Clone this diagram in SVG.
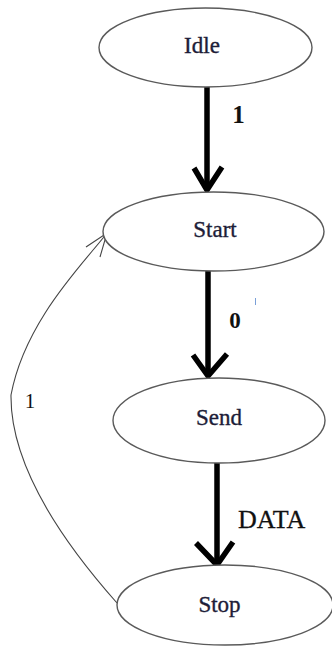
<svg xmlns="http://www.w3.org/2000/svg" width="332" height="647" viewBox="0 0 332 647">
  <style>
    .state { fill: #fff; stroke: #5a5a5a; stroke-width: 1.4; }
    .name { font-family: "Liberation Serif", "Times New Roman", serif; font-size: 23px; fill: #1d1d38; stroke: #1d1d38; stroke-width: 0.35; text-anchor: middle; }
    .thick { stroke: #000; stroke-width: 5.5; fill: none; stroke-linejoin: round; }
    .thin { stroke: #444; stroke-width: 1.1; fill: none; }
    .lbl { font-family: "Liberation Serif", "Times New Roman", serif; fill: #111; }
    .bold { font-weight: bold; }
  </style>
  <rect width="332" height="647" fill="#fff"/>

  <g id="connectors">
    <!-- Idle -> Start -->
    <line class="thick" x1="207" y1="87" x2="207" y2="190"/>
    <polyline class="thick" points="194,168 207,190 222,167"/>
    <text class="lbl bold" x="238.5" y="123" font-size="25" text-anchor="middle">1</text>
    <!-- Start -> Send -->
    <line class="thick" x1="208" y1="271" x2="208" y2="376"/>
    <polyline class="thick" points="193,355 208,376 227,354"/>
    <text class="lbl bold" x="235" y="328" font-size="23" text-anchor="middle">0</text>
    <line x1="255.5" y1="298" x2="255.5" y2="305" stroke="#7aa0d8" stroke-width="1"/>
    <!-- Send -> Stop -->
    <line class="thick" x1="217" y1="463" x2="217" y2="565"/>
    <polyline class="thick" points="196,543 217,565 233,542"/>
    <text class="lbl" x="238" y="528" font-size="26" stroke="#111" stroke-width="0.3">DATA</text>
    <!-- Stop -> Start (loop back) -->
    <path class="thin" d="M117,603 C70,550 10,470 11,395 C25,320 85,262 107,233"/>
    <polyline class="thin" points="86,247 107,233 100,257"/>
    <text class="lbl" x="30" y="408" font-size="21" text-anchor="middle">1</text>
  </g>

  <g id="idle">
    <ellipse class="state" cx="205.5" cy="47.5" rx="106.5" ry="39.5"/>
    <text class="name" x="202" y="53">Idle</text>
  </g>
  <g id="start">
    <ellipse class="state" cx="213.5" cy="231.5" rx="110.5" ry="39.5"/>
    <text class="name" x="215" y="237">Start</text>
  </g>
  <g id="send">
    <ellipse class="state" cx="219" cy="420.5" rx="106" ry="42.5"/>
    <text class="name" x="219" y="425">Send</text>
  </g>
  <g id="stop">
    <ellipse class="state" cx="225" cy="605" rx="108" ry="40"/>
    <text class="name" x="219.5" y="612">Stop</text>
  </g>
</svg>
